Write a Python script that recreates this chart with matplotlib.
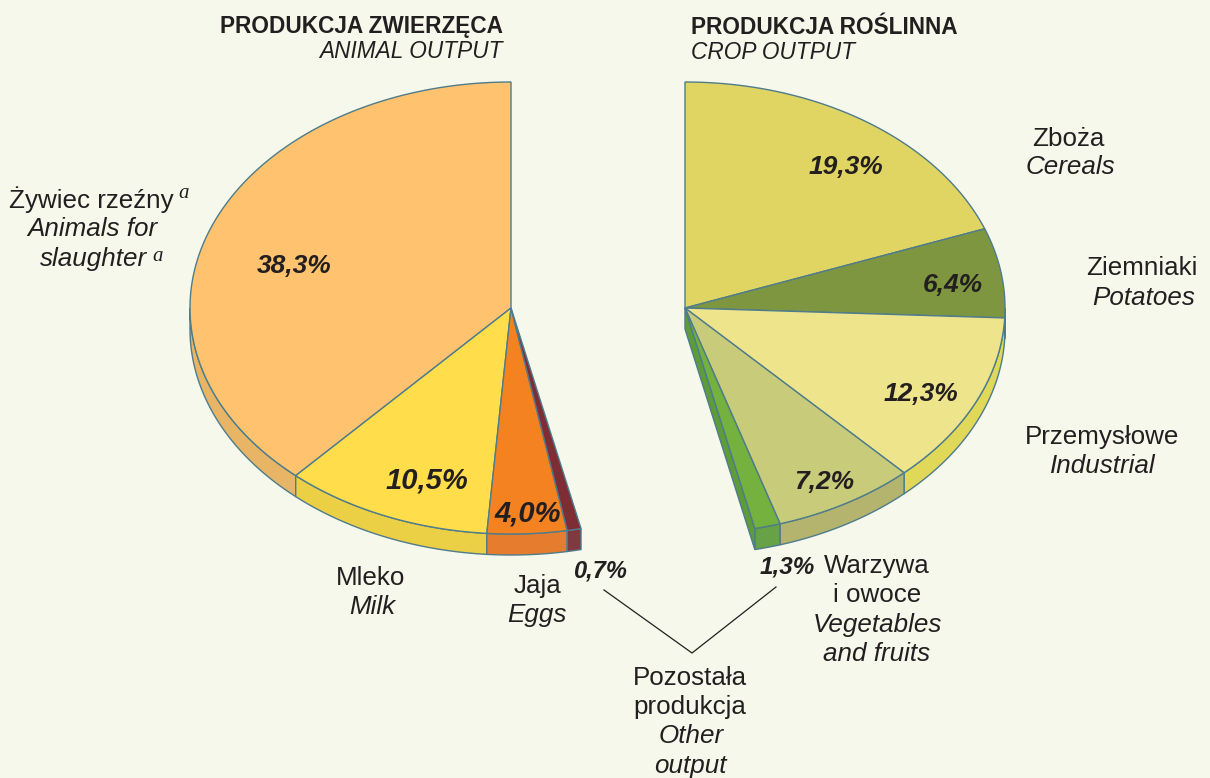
import numpy as np
import matplotlib
matplotlib.use("Agg")
import matplotlib.pyplot as plt
from matplotlib.patches import Polygon

plt.rcParams['font.family'] = ['Liberation Sans', 'DejaVu Sans']

animal_names = ["Zywiec", "Mleko", "Jaja", "Pozostala"]
animal_values = [38.3, 10.5, 4.0, 0.7]
animal_labels = ["38,3%", "10,5%", "4,0%", "0,7%"]
animal_top = ["#FFC36F", "#FFDD4B", "#F58220", "#7F2D35"]
animal_side = ["#E8B566", "#EBCF44", "#E67D2E", "#7F3A40"]

crop_names = ["Zboza", "Ziemniaki", "Przemyslowe", "Warzywa", "Pozostala"]
crop_values = [19.3, 6.4, 12.3, 7.2, 1.3]
crop_labels = ["19,3%", "6,4%", "12,3%", "7,2%", "1,3%"]
crop_top = ["#E0D562", "#7F9641", "#EEE48C", "#C8CB7A", "#74B13F"]
crop_side = ["#CFC657", "#5F7F38", "#E0D858", "#B5B46E", "#67A246"]

bg = "#F5F8EA"
edge = "#4E7C8C"
ink = "#231F20"
ry, depth = 226, 21


def xy(cx, cy, rx, ang, dy=0):
    # ang in degrees, clockwise from top of the ellipse
    a = np.radians(ang)
    return cx + rx*np.sin(a), cy - ry*np.cos(a) + dy


def drawPie(ax, cx, cy, rx, values, top, side, sign):
    edges = sign*np.cumsum([0] + list(values))*3.6
    # walls first
    for i in range(len(values)):
        a0, a1 = sorted((edges[i], edges[i+1]))
        # wall is seen only on the lower half of the ellipse
        if sign > 0:
            a0 = max(a0, 90)
        else:
            a1 = min(a1, -90)
        if a1 <= a0:
            continue
        t = np.linspace(a0, a1, 80)
        x, y = xy(cx, cy, rx, t)
        x2, y2 = xy(cx, cy, rx, t[::-1], depth)
        ax.add_patch(Polygon(np.c_[np.r_[x, x2], np.r_[y, y2]], fc=side[i], ec=edge, lw=1, zorder=2))
    for i in range(len(values)):
        t = np.linspace(edges[i], edges[i+1], 120)
        x, y = xy(cx, cy, rx, t)
        ax.add_patch(Polygon(np.c_[np.r_[cx, x], np.r_[cy, y]], fc=top[i], ec=edge, lw=1, zorder=3))
    return edges


fig = plt.figure(figsize=(12.1, 7.78), dpi=100, facecolor=bg)
ax = fig.add_axes([0, 0, 1, 1])
ax.set_xlim(0, 1210)
ax.set_ylim(778, 0)
ax.axis("off")

drawPie(ax, 511, 308, 321, animal_values, animal_top, animal_side, -1)
e = drawPie(ax, 685, 308, 320, crop_values, crop_top, crop_side, 1)

# cut face of the right half
ex, ey = xy(685, 308, 320, e[-1])
ax.add_patch(Polygon([(685, 308), (ex, ey), (ex, ey+depth), (685, 308+depth)],
                     fc="#5E9C3A", ec=edge, lw=1, zorder=2))

# leader lines to the "other output" label
ax.plot([604, 692, 776], [590, 653, 587], color=ink, lw=0.9, zorder=4)

# percent labels
pct_x = [294, 427, 528, 600, 846, 953, 921, 824, 787]
pct_y = [266, 480, 513, 571, 167, 285, 394, 482, 567]
pct_size = [19, 21, 21, 17, 19, 19, 19, 19, 17.5]
for s, x, y, fs in zip(animal_labels + crop_labels, pct_x, pct_y, pct_size):
    ax.text(x, y, s, fontsize=fs, fontweight="bold", fontstyle="italic", color=ink,
            ha="center", va="center", zorder=5)

# headers
ax.text(503, 26, "PRODUKCJA ZWIERZĘCA", fontsize=16.3, fontweight="bold", color=ink, ha="right", va="center")
ax.text(503, 51, "ANIMAL OUTPUT", fontsize=16.3, fontstyle="italic", color=ink, ha="right", va="center")
ax.text(691, 27, "PRODUKCJA ROŚLINNA", fontsize=16.3, fontweight="bold", color=ink, ha="left", va="center")
ax.text(691, 52, "CROP OUTPUT", fontsize=16.3, fontstyle="italic", color=ink, ha="left", va="center")

# category names, normal then italic
names = [("Żywiec rzeźny", 91, 200, "normal"), ("Animals for", 92, 229, "italic"), ("slaughter", 93, 259, "italic"),
         ("Mleko", 371, 578, "normal"), ("Milk", 372, 607, "italic"),
         ("Jaja", 537, 586, "normal"), ("Eggs", 537, 615, "italic"),
         ("Zboża", 1068, 139, "normal"), ("Cereals", 1070, 167, "italic"),
         ("Ziemniaki", 1142, 268, "normal"), ("Potatoes", 1144, 298, "italic"),
         ("Przemysłowe", 1102, 437, "normal"), ("Industrial", 1103, 466, "italic"),
         ("Warzywa", 877, 566, "normal"), ("i owoce", 877, 595, "normal"),
         ("Vegetables", 877, 625, "italic"), ("and fruits", 877, 654, "italic"),
         ("Pozostała", 690, 678, "normal"), ("produkcja", 690, 707, "normal"),
         ("Other", 691, 736, "italic"), ("output", 690, 766, "italic")]
for s, x, y, st in names:
    ax.text(x, y, s, fontsize=18.7, fontstyle=st, color=ink, ha="center", va="center", zorder=5)

# footnote marks
ax.text(184, 193, "a", fontsize=15, family="Liberation Serif", fontstyle="italic", color=ink, ha="center", va="center")
ax.text(158, 256, "a", fontsize=15, family="Liberation Serif", fontstyle="italic", color=ink, ha="center", va="center")

fig.savefig("out.png", dpi=100, facecolor=bg)
